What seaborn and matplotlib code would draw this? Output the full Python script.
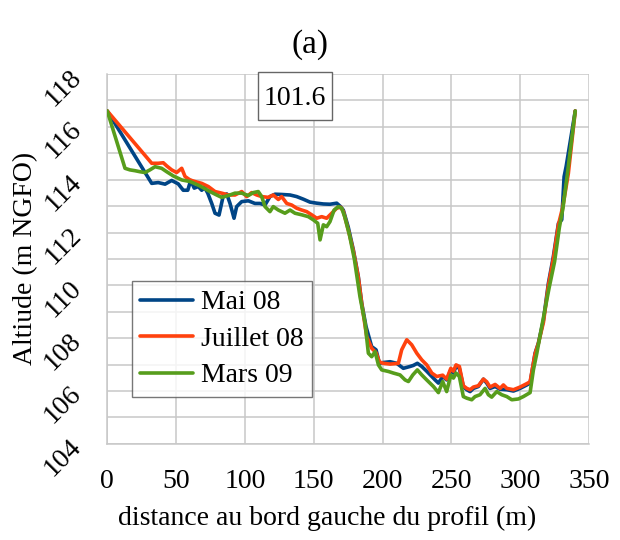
import numpy as np
import pandas as pd
import matplotlib
matplotlib.use("Agg")
import matplotlib.pyplot as plt
from matplotlib.patches import Rectangle
from matplotlib.ticker import MultipleLocator
import seaborn as sns

# -----------------------------
# Data (distance in m, altitude in m NGFO)
# -----------------------------
series_names = ["Mai 08", "Juillet 08", "Mars 09"]
series_colors = ["#004586", "#ff420e", "#579d1c"]

mai08_x = [0, 32.3, 37, 42, 46.8, 51.6, 55.2, 58.5, 60.6, 63.2, 66.1, 68.6, 70.8, 73,
           75.9, 78.3, 81.2, 84.3, 86.8, 89.2, 92.1, 94, 97.7, 102.5, 107.3, 111, 114.6,
           118.2, 121.9, 126.7, 132.8, 137.6, 142.5, 147.3, 152.2, 157, 161.8, 166.7,
           169.1, 171.5, 175.1, 178.8, 182.4, 184.9, 188, 192.1, 195.3, 197.7, 200.6,
           205.5, 210.3, 215.1, 220, 222.4, 225.3, 228.5, 232.1, 238.2, 240.6, 243.7,
           246.6, 249.6, 251.5, 253.4, 255.8, 258.7, 261.2, 263.6, 266, 269.6, 273.3,
           275.7, 278.1, 281.8, 285.4, 290.3, 295.1, 299.9, 304.8, 307.2, 310.8, 313.2,
           316.9, 320.5, 324.1, 327.8, 330.2, 331.9, 333.4, 340]
mai08_y = [116.6, 113.86, 113.89, 113.83, 113.97, 113.84, 113.6, 113.6, 113.97, 113.68,
           113.74, 113.6, 113.7, 113.49, 113.1, 112.73, 112.66, 113.4, 113.46, 113.1,
           112.54, 112.98, 113.17, 113.2, 113.1, 113.1, 113.04, 113.36, 113.45, 113.44,
           113.42, 113.36, 113.26, 113.15, 113.11, 113.08, 113.07, 113.11, 113.0, 112.85,
           112.2, 111.34, 110.33, 109.32, 108.44, 107.68, 107.56, 107.05, 107.08, 107.11,
           107.05, 106.86, 106.93, 106.97, 107.05, 106.93, 106.75, 106.42, 106.3, 106.55,
           106.42, 106.8, 106.68, 106.93, 106.86, 106.17, 106.05, 105.98, 106.1, 106.17,
           106.45, 106.3, 106.1, 106.17, 106.07, 106.05, 106.0, 106.1, 106.23, 106.3,
           107.43, 107.81, 108.69, 110.08, 111.09, 112.35, 112.48, 114.11, 114.5, 116.6]

juil08_x = [0, 32.3, 37, 40.7, 43.2, 46.8, 50.4, 54.1, 56.5, 60.1, 63.7, 68.6, 73.4, 78.3,
            83.1, 88, 92.8, 97.7, 101.3, 104.9, 108.6, 112.2, 117, 120.6, 124.3, 126.7,
            130.4, 134, 137.6, 141.3, 144.9, 148.5, 152.2, 155.8, 159.4, 163.1, 166.7,
            169.6, 171.5, 175.1, 178.8, 182.4, 184.9, 188.5, 192.1, 195.3, 197.7, 200.6,
            205.5, 211.5, 213.9, 217.6, 221.2, 224.9, 228.5, 232.1, 235.8, 239.4, 243.7,
            246.6, 249.6, 251.5, 253.4, 255.8, 258.7, 261.2, 263.6, 266, 269.6, 273.3,
            275.7, 278.1, 281.8, 285.4, 287.8, 290.3, 295.1, 299.9, 304.8, 307.2, 310.8,
            313.2, 316.9, 320.5, 324.1, 327.8, 331, 335, 340]
juil08_y = [116.6, 114.62, 114.62, 114.64, 114.52, 114.37, 114.27, 114.43, 114.12, 113.99,
            113.93, 113.86, 113.74, 113.55, 113.49, 113.42, 113.42, 113.55, 113.36, 113.51,
            113.42, 113.36, 113.33, 113.42, 113.25, 113.36, 113.1, 113.04, 112.92, 112.85,
            112.79, 112.67, 112.54, 112.6, 112.54, 112.73, 112.92, 112.96, 112.8, 112.1,
            111.3, 110.3, 109.3, 108.06, 107.62, 107.45, 107.1, 107.05, 107.02, 107.05,
            107.56, 107.94, 107.75, 107.43, 107.18, 106.99, 106.68, 106.55, 106.6, 106.45,
            106.86, 106.75, 106.99, 106.93, 106.2, 106.1, 106.05, 106.15, 106.2, 106.45,
            106.35, 106.15, 106.25, 106.1, 106.23, 106.1, 106.05, 106.15, 106.28, 106.35,
            107.4, 107.8, 108.6, 110.0, 111.0, 112.3, 112.98, 114.24, 116.6]

mars09_x = [0, 12.9, 16.5, 20.1, 23.8, 27.4, 31, 34.7, 39.5, 43.2, 48, 54.1, 60.1, 67.4,
            74.6, 79.5, 83.1, 88, 92.8, 97.7, 102.5, 106.1, 109.7, 112.2, 114.6, 118.2,
            120.6, 124.3, 129.1, 132.8, 136.4, 141.3, 146.1, 149.7, 152.9, 154.6, 157,
            159.4, 161.8, 164.8, 167.9, 170.3, 172.5, 176, 179.5, 183.6, 187.3, 189.7,
            192.1, 194.6, 197, 199.4, 204.3, 207.9, 212.7, 216.4, 218.8, 222, 225.3,
            228.5, 232.1, 237, 240.6, 243.7, 246.6, 249.6, 251.5, 253.4, 255.8, 258.7,
            261.2, 264.8, 267.2, 270.8, 274.5, 276.9, 279.3, 283, 286.6, 290.3, 293.9,
            298.7, 302.3, 307.2, 309.6, 312.1, 315.7, 321, 325, 328.5, 331, 334, 340]
mars09_y = [116.6, 114.43, 114.37, 114.34, 114.3, 114.27, 114.37, 114.49, 114.43, 114.3,
            114.14, 113.99, 113.93, 113.76, 113.55, 113.42, 113.33, 113.4, 113.49, 113.49,
            113.4, 113.51, 113.55, 113.36, 112.98, 112.79, 112.98, 112.85, 112.73, 112.85,
            112.73, 112.67, 112.6, 112.48, 112.35, 111.72, 112.29, 112.22, 112.41, 112.85,
            112.98, 112.92, 112.6, 111.9, 111.0, 109.57, 108.57, 107.43, 107.3, 107.49,
            106.99, 106.8, 106.74, 106.68, 106.61, 106.42, 106.36, 106.61, 106.8, 106.61,
            106.42, 106.17, 105.94, 106.36, 105.98, 106.61, 106.49, 106.68, 106.55, 105.79,
            105.73, 105.67, 105.79, 105.86, 106.1, 105.86, 105.77, 105.98, 105.86, 105.79,
            105.67, 105.7, 105.79, 105.94, 106.8, 107.43, 108.45, 109.9, 110.9, 112.2,
            112.9, 114.1, 116.6]

x_ticks = [0, 50, 100, 150, 200, 250, 300, 350]
y_ticks = [104, 106, 108, 110, 112, 114, 116, 118]
box_label = "101.6"

# -----------------------------
# Long-form table for seaborn
# -----------------------------
frames = []
for name, xs, ys in zip(series_names,
                        [mai08_x, juil08_x, mars09_x],
                        [mai08_y, juil08_y, mars09_y]):
    frames.append(pd.DataFrame({"distance": xs, "altitude": ys, "campagne": name}))
df = pd.concat(frames, ignore_index=True)

# -----------------------------
# Plot
# -----------------------------
sns.set_style("white")
plt.rcParams["font.family"] = ["Liberation Serif", "DejaVu Serif"]
plt.rcParams["text.color"] = "black"
plt.rcParams["axes.labelcolor"] = "black"

fig = plt.figure(figsize=(6.2, 5.4), dpi=100)
ax = fig.add_axes([0.173, 0.178, 0.777, 0.685])

grid_color = "#c8c8c8"
sns.lineplot(data=df, x="distance", y="altitude", hue="campagne",
             hue_order=series_names, palette=series_colors,
             estimator=None, sort=False, linewidth=2.6, ax=ax, zorder=3)

ax.set_xlim(x_ticks[0], x_ticks[-1])
ax.set_ylim(y_ticks[0], y_ticks[-1])
ax.set_xticks(x_ticks)
ax.set_yticks(y_ticks)
ax.yaxis.set_minor_locator(MultipleLocator(1))
ax.grid(True, which="both", color=grid_color, linewidth=1.1)
ax.set_axisbelow(True)

for side in ["top", "right"]:
    ax.spines[side].set_visible(False)
for side in ["left", "bottom"]:
    ax.spines[side].set_color(grid_color)
    ax.spines[side].set_linewidth(1.1)

ax.tick_params(axis="both", which="both", direction="out", length=8,
               color=grid_color, width=1.1, labelsize=20, labelcolor="black")
ax.tick_params(axis="x", pad=10)
ax.tick_params(axis="y", pad=7)
plt.setp(ax.get_yticklabels(), rotation=45)

ax.set_xlabel("distance au bord gauche du profil (m)", fontsize=20)
ax.xaxis.set_label_coords(0.456, -0.168)
ax.set_ylabel("Altiude (m NGFO)", fontsize=20, labelpad=1)

fig.suptitle("(a)", x=0.5, y=1 - 45 / 540, va="center", fontsize=24)

# value box above the left bank
ax.add_patch(Rectangle((0.313, 0.876), 0.153, 0.13, transform=ax.transAxes,
                       facecolor="white", edgecolor="#666666", linewidth=1.0,
                       clip_on=False, zorder=5))
ax.text(0.3895, 0.916, box_label, transform=ax.transAxes, fontsize=20,
        ha="center", va="baseline", zorder=6)

leg = ax.legend(loc="upper left", bbox_to_anchor=(0.051, 0.439), borderaxespad=0,
                fontsize=20, frameon=True, fancybox=False, handlelength=1.9,
                labelspacing=0.4, borderpad=0.3, handletextpad=0.3)
leg.get_frame().set_edgecolor("#555555")
leg.get_frame().set_linewidth(1.0)
for line in leg.get_lines():
    line.set_linewidth(2.6)
for txt in leg.get_texts():
    txt.set_color("black")

fig.savefig("out.png", dpi=100)
